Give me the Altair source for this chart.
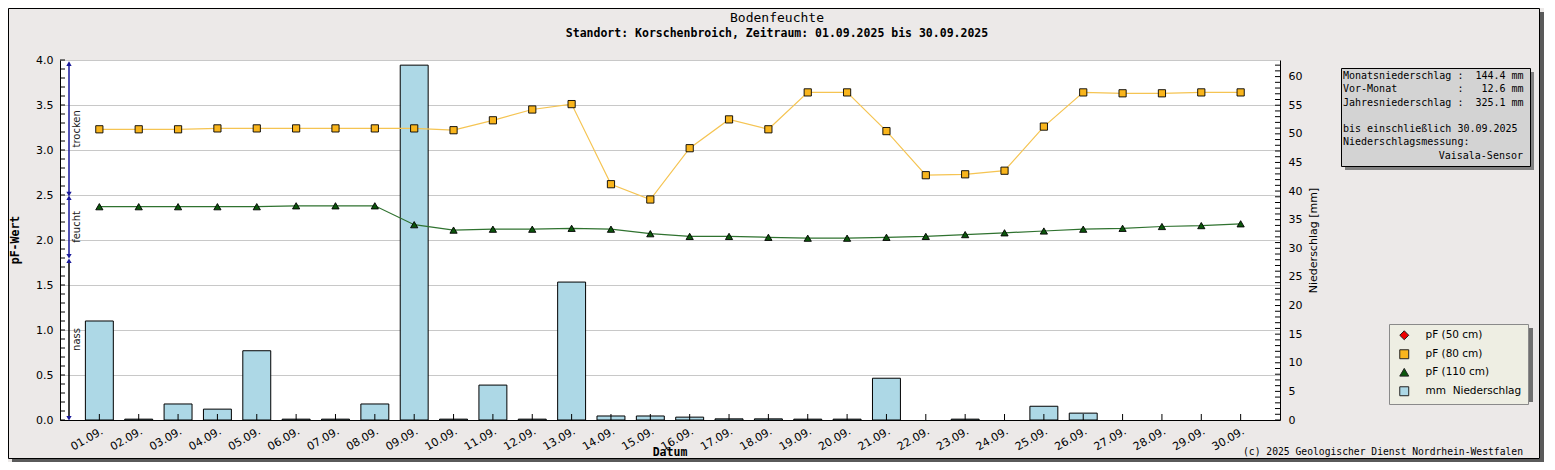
import altair as alt
import pandas as pd

# ---------------- data ----------------
dates = ["01.09.", "02.09.", "03.09.", "04.09.", "05.09.", "06.09.", "07.09.", "08.09.",
         "09.09.", "10.09.", "11.09.", "12.09.", "13.09.", "14.09.", "15.09.", "16.09.",
         "17.09.", "18.09.", "19.09.", "20.09.", "21.09.", "22.09.", "23.09.", "24.09.",
         "25.09.", "26.09.", "27.09.", "28.09.", "29.09.", "30.09."]
pf80 = [3.23, 3.23, 3.23, 3.24, 3.24, 3.24, 3.24, 3.24, 3.24, 3.22,
        3.33, 3.45, 3.51, 2.62, 2.45, 3.02, 3.34, 3.23, 3.64, 3.64,
        3.21, 2.72, 2.73, 2.77, 3.26, 3.64, 3.63, 3.63, 3.64, 3.64]
pf110 = [2.37, 2.37, 2.37, 2.37, 2.37, 2.38, 2.38, 2.38, 2.17, 2.11,
         2.12, 2.12, 2.13, 2.12, 2.07, 2.04, 2.04, 2.03, 2.02, 2.02,
         2.03, 2.04, 2.06, 2.08, 2.10, 2.12, 2.13, 2.15, 2.16, 2.18]
precip = [17.3, 0.15, 2.8, 1.9, 12.1, 0.15, 0.15, 2.8, 62.0, 0.15,
          6.1, 0.15, 24.1, 0.7, 0.7, 0.5, 0.2, 0.2, 0.15, 0.15,
          7.3, 0.0, 0.15, 0.0, 2.4, 1.2, 0.0, 0.0, 0.0, 0.0]

series_names = ["pF (50 cm)", "pF (80 cm)", "pF (110 cm)", "mm\u00a0\u00a0Niederschlag"]
band_names = ["trocken", "feucht", "nass"]
band_low = [2.51, 1.82, 0.02]
band_high = [3.96, 2.47, 1.77]

left_axis_values = [0.0, 0.5, 1.0, 1.5, 2.0, 2.5, 3.0, 3.5, 4.0]
right_axis_values = [0, 5, 10, 15, 20, 25, 30, 35, 40, 45, 50, 55, 60]
pf_minor_ticks = [round(i * 0.1, 1) for i in range(41)]
mm_minor_ticks = list(range(0, 63))

title_text = "Bodenfeuchte"
subtitle_text = "Standort: Korschenbroich, Zeitraum: 01.09.2025 bis 30.09.2025"
copyright_text = "(c) 2025 Geologischer Dienst Nordrhein-Westfalen"
NB = "\u00a0"
info_block1 = [
    "Monatsniederschlag" + " :" + "144.4 mm".rjust(10),
    "Vor-Monat".ljust(18) + " :" + "12.6 mm".rjust(10),
    "Jahresniederschlag" + " :" + "325.1 mm".rjust(10),
]
info_block2 = ["bis einschließlich 30.09.2025", "Niederschlagsmessung:"]
info_block3 = "Vaisala-Sensor"
info_block1 = [r.replace(" ", NB) for r in info_block1]
info_block2 = [r.replace(" ", NB) for r in info_block2]

# ---------------- layout constants ----------------
W, H = 1220, 360
MONO = "DejaVu Sans Mono"
SANS = "DejaVu Sans"
BG = "#ECE9E8"
LH = 13.3

df_pf = pd.DataFrame({
    "Datum": dates * 2,
    "pF": pf80 + pf110,
    "Serie": ["pF (80 cm)"] * len(dates) + ["pF (110 cm)"] * len(dates),
})
df_mm = pd.DataFrame({"Datum": dates, "mm": precip})
df_bands = pd.DataFrame({"band": band_names, "lo": band_low, "hi": band_high})
df_pft = pd.DataFrame({"t": pf_minor_ticks})
df_mmt = pd.DataFrame({"v": mm_minor_ticks})
one = alt.Data(values=[{"a": 1}])

x_axis = alt.Axis(title=None, labelAngle=330, labelAlign="right", labelBaseline="top",
                  labelPadding=5, ticks=False, tickSize=0, domainColor="black",
                  labelFont=SANS, labelFontSize=11, labelColor="black", grid=False)
x_enc = alt.X("Datum:N", sort=dates,
              scale=alt.Scale(paddingInner=0.29, paddingOuter=0.645), axis=x_axis)

left_axis = alt.Axis(orient="left", values=left_axis_values, format=".1f", title=None,
                     grid=True, gridColor="#C8C8C8", ticks=False, tickSize=0,
                     domainColor="black", labelPadding=7, labelFont=SANS,
                     labelFontSize=11, labelColor="black")
left_scale = alt.Scale(domain=[0, 4], nice=False, zero=True)

right_axis = alt.Axis(orient="right", values=right_axis_values, format="d",
                      title="Niederschlag [mm]", titleFont=SANS, titleFontSize=11,
                      titleFontWeight="normal", titleColor="black", titleAngle=270,
                      titleBaseline="top", titlePadding=6,
                      grid=False, ticks=False, tickSize=0, domainColor="black",
                      labelPadding=8, labelFont=SANS, labelFontSize=11, labelColor="black")
right_scale = alt.Scale(domain=[0, 62.9], nice=False, zero=True)


def ly(field, **kw):
    return alt.Y(field, scale=left_scale, axis=left_axis, **kw)


def ry(field):
    return alt.Y(field, scale=right_scale, axis=right_axis)


# ---------------- right group (precipitation) ----------------
bars = alt.Chart(df_mm).transform_filter("datum.mm > 0").mark_bar(
    fill="#ADD8E6", stroke="black", strokeWidth=1
).encode(x=x_enc, y=ry("mm:Q"))

bottom_ticks = alt.Chart(df_mm).mark_rule(color="black", strokeWidth=1).encode(
    x=x_enc, y=alt.value(H), y2=alt.value(H - 6))

right_ticks = alt.Chart(df_mmt).mark_rule(color="black", strokeWidth=1).encode(
    y=ry("v:Q"), x=alt.value(W), x2=alt.value(W - 5))

right_group = alt.layer(bars, bottom_ticks, right_ticks)

# ---------------- left group (pF) ----------------
frame_shadow_r = alt.Chart(one).mark_rect(fill="#5A5A5A").encode(
    x=alt.value(1480), x2=alt.value(1484), y=alt.value(-48), y2=alt.value(402))
frame_shadow_b = alt.Chart(one).mark_rect(fill="#5A5A5A").encode(
    x=alt.value(-48), x2=alt.value(1484), y=alt.value(399), y2=alt.value(402))
frame = alt.Chart(one).mark_rect(fill=None, stroke="black", strokeWidth=1).encode(
    x=alt.value(-51.5), x2=alt.value(1479.5), y=alt.value(-51.5), y2=alt.value(398.5))

left_ticks = alt.Chart(df_pft).mark_rule(color="black", strokeWidth=1).encode(
    y=ly("t:Q"), x=alt.value(0), x2=alt.value(5))

line80 = alt.Chart(df_pf).transform_filter("datum.Serie == 'pF (80 cm)'").mark_line(
    color="#F5C452", strokeWidth=1.2).encode(x=x_enc, y=ly("pF:Q"))
line110 = alt.Chart(df_pf).transform_filter("datum.Serie == 'pF (110 cm)'").mark_line(
    color="#2F722F", strokeWidth=1.2).encode(x=x_enc, y=ly("pF:Q"))

legend = alt.Legend(orient="none", legendX=1329, legendY=264, title=None,
                    fillColor="#EEEEE3", strokeColor="#8A8A8A", padding=6,
                    rowPadding=5, labelFont=SANS, labelFontSize=10.5, labelColor="black",
                    symbolSize=80, symbolStrokeWidth=1, symbolStrokeColor="#222222",
                    labelOffset=16, symbolOffset=4)
points = alt.Chart(df_pf).mark_point(filled=True, stroke="black", strokeWidth=0.9,
                                     size=52, opacity=1).encode(
    x=x_enc, y=ly("pF:Q"),
    color=alt.Color("Serie:N", scale=alt.Scale(
        domain=series_names, range=["#EE0000", "#F9B51C", "#0B560B", "#ADD8E6"]),
        legend=legend),
    shape=alt.Shape("Serie:N", scale=alt.Scale(
        domain=series_names, range=["diamond", "square", "triangle-up", "square"]),
        legend=legend),
)

band_color = alt.condition("datum.band == 'nass'", alt.value("black"), alt.value("#1A1A9A"))
band_lines = alt.Chart(df_bands).mark_rule(strokeWidth=1.5).encode(
    x=alt.value(9), y=ly("lo:Q"), y2="hi:Q", color=band_color)
arrows_up = alt.Chart(df_bands).mark_point(shape="triangle-up", filled=True, size=28,
                                           color="#1A1A9A", opacity=1).encode(
    x=alt.value(9), y=ly("hi:Q"))
arrows_down = alt.Chart(df_bands).mark_point(shape="triangle-down", filled=True, size=28,
                                             color="#1A1A9A", opacity=1).encode(
    x=alt.value(9), y=ly("lo:Q"))
band_text = alt.Chart(df_bands).transform_calculate(mid="(datum.lo + datum.hi) / 2").mark_text(
    angle=270, font=SANS, fontSize=10, color="#222222", align="center", baseline="middle"
).encode(x=alt.value(17), y=ly("mid:Q"), text="band:N")

title_mark = alt.Chart(one).mark_text(text=title_text, font=MONO, fontSize=13,
                                      color="black", align="center", baseline="middle").encode(
    x=alt.value(717), y=alt.value(-42))
subtitle_mark = alt.Chart(one).mark_text(text=subtitle_text, font=MONO, fontSize=11.5,
                                         fontWeight="bold", color="black", align="center",
                                         baseline="middle").encode(
    x=alt.value(717), y=alt.value(-26))
ytitle_mark = alt.Chart(one).mark_text(text="pF-Wert", font=MONO, fontSize=11.5,
                                       fontWeight="bold", color="black", angle=270,
                                       align="center", baseline="middle").encode(
    x=alt.value(-44), y=alt.value(180))
xtitle_mark = alt.Chart(one).mark_text(text="Datum", font=MONO, fontSize=11.5,
                                       fontWeight="bold", color="black", align="center",
                                       baseline="middle").encode(
    x=alt.value(610), y=alt.value(393))
copyright_mark = alt.Chart(one).mark_text(text=copyright_text, font=MONO, fontSize=9.7,
                                          color="black", align="right",
                                          baseline="middle").encode(
    x=alt.value(1463), y=alt.value(392))

info_shadow = alt.Chart(one).mark_rect(fill="#808080").encode(
    x=alt.value(1285), x2=alt.value(1474), y=alt.value(12), y2=alt.value(110))
info_box = alt.Chart(one).mark_rect(fill="#D3D3D3", stroke="black", strokeWidth=1).encode(
    x=alt.value(1281.5), x2=alt.value(1470.5), y=alt.value(8.5), y2=alt.value(106.5))
info_text1 = alt.Chart(one).mark_text(text=info_block1, font=MONO, fontSize=10,
                                      lineHeight=LH, color="black", align="left",
                                      baseline="top").encode(
    x=alt.value(1283), y=alt.value(11))
info_text2 = alt.Chart(one).mark_text(text=info_block2, font=MONO, fontSize=10,
                                      lineHeight=LH, color="black", align="left",
                                      baseline="top").encode(
    x=alt.value(1283), y=alt.value(11 + 4 * LH))
info_text3 = alt.Chart(one).mark_text(text=info_block3, font=MONO, fontSize=10,
                                      color="black", align="right",
                                      baseline="top").encode(
    x=alt.value(1463), y=alt.value(11 + 6 * LH))
legend_shadow = alt.Chart(one).mark_rect(fill="#6F6F6F").encode(
    x=alt.value(1333), x2=alt.value(1473), y=alt.value(268), y2=alt.value(342))

left_group = alt.layer(
    frame_shadow_r, frame_shadow_b, frame,
    left_ticks, line80, line110, points,
    band_lines, arrows_up, arrows_down, band_text,
    title_mark, subtitle_mark, ytitle_mark, xtitle_mark, copyright_mark,
    info_shadow, info_box, info_text1, info_text2, info_text3, legend_shadow,
)

chart = alt.layer(right_group, left_group).resolve_scale(y="independent").properties(
    width=W, height=H,
    autosize=alt.AutoSizeParams(type="none"),
    padding={"left": 52, "top": 52, "right": 264, "bottom": 42},
    background=BG,
).configure_view(stroke=None, fill="white")

chart.save("out.html", embed_options={"renderer": "svg", "actions": False})
